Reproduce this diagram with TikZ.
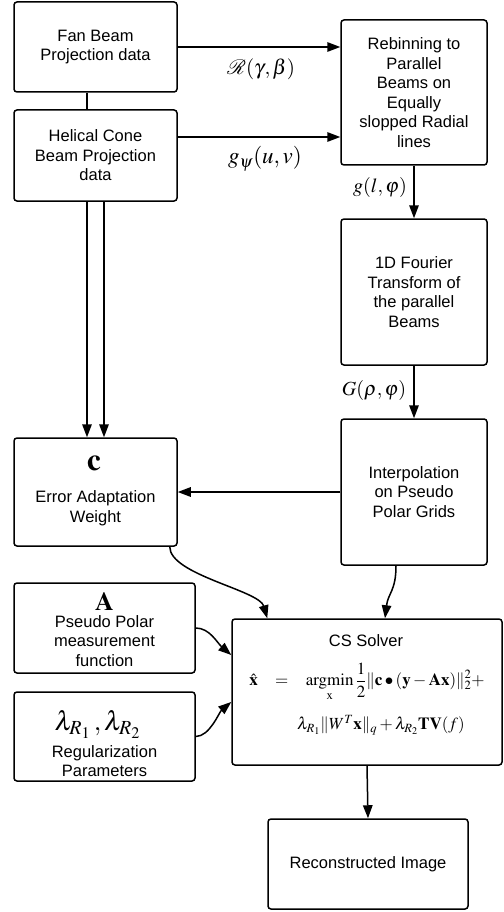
\documentclass[tikz,border=0pt]{standalone}
\usepackage{amsmath}
\usepackage{mathptmx}
\usepackage{mathrsfs}
\usepackage[no-math]{fontspec}
\setmainfont{Liberation Sans}
\usetikzlibrary{arrows.meta}
\begin{document}
\begin{tikzpicture}[x=1pt,y=-1pt,
 box/.style={draw,line width=1.5pt,rounded corners=3pt,align=center,inner sep=0pt},
 txt/.style={font=\fontsize{16.5}{19.5}\selectfont,align=center,inner sep=0pt},
 mlab/.style={font=\fontsize{21}{24}\selectfont,inner sep=0pt},
 eqn/.style={font=\fontsize{17}{20}\selectfont,inner sep=0pt},
 arr/.style={line width=1.5pt,-{Triangle[length=13pt,width=9.5pt]}},
 con/.style={line width=1.5pt}]
\useasboundingbox (0,0) rectangle (503,912);

\node[box,txt,minimum width=163pt,minimum height=90pt] (fan) at (95.5,47) {Fan Beam\\Projection data};
\node[box,txt,minimum width=163pt,minimum height=91pt] (helix) at (95.5,155.5) {Helical Cone\\Beam Projection\\data};
\node[box,txt,minimum width=146pt,minimum height=145pt] (rebin) at (414,92.5) {Rebinning to\\Parallel\\Beams on\\Equally\\slopped Radial\\lines};
\node[box,txt,minimum width=146pt,minimum height=146pt] (fourier) at (414,292) {1D Fourier\\Transform of\\the parallel\\Beams};
\node[box,txt,minimum width=146pt,minimum height=146pt] (interp) at (414,492) {Interpolation\\on Pseudo\\Polar Grids};
\node[box,minimum width=163pt,minimum height=108pt] (err) at (95.5,492) {};
\node[box,minimum width=181pt,minimum height=90pt] (amat) at (104.5,628) {};
\node[box,minimum width=181pt,minimum height=89pt] (reg) at (104.5,736.5) {};
\node[box,minimum width=270pt,minimum height=146pt] (cs) at (367,692) {};
\node[box,txt,minimum width=200pt,minimum height=90pt] (recon) at (368,864) {Reconstructed Image};

% texts in boxes
\node[inner sep=0pt,font=\fontsize{31}{31}\selectfont] (cbold) at (94,463) {$\mathbf{c}$};
\node[txt] (errtxt) at (95.5,508) {Error Adaptation\\Weight};
\node[inner sep=0pt,font=\fontsize{26}{26}\selectfont] (abold) at (104.5,602) {$\mathbf{A}$};
\node[txt] (amtxt) at (104.5,641) {Pseudo Polar\\measurement\\function};
\node[inner sep=0pt,font=\fontsize{27}{27}\selectfont] (lam) at (97.5,724) {$\lambda_{R_1}\,,\lambda_{R_2}$};
\node[txt] (regtxt) at (104.5,761) {Regularization\\Parameters};
\node[txt] (cstitle) at (366,641) {CS Solver};
\node[eqn] (eq1) at (367,682) {$\displaystyle \hat{\mathbf{x}}\hspace{0.8em}=\hspace{0.8em}\operatorname*{argmin}_{\mathrm{x}}\frac{1}{2}\|\mathbf{c}\bullet(\mathbf{y}-\mathbf{A}\mathbf{x})\|_2^2+$};
\node[eqn] (eq2) at (381,725) {$\lambda_{R_1}\|W^T\mathbf{x}\|_q+\lambda_{R_2}\mathbf{TV}(f)$};

% connectors
\draw[con] ([xshift=-8.5pt]fan.south) -- ([xshift=-8.5pt]helix.north);
\draw[arr] (fan.east) -- (fan.east -| rebin.west);
\draw[arr] ([yshift=18.5pt]helix.east) -- ([yshift=18.5pt]helix.east -| rebin.west);
\draw[arr] (rebin.south) -- (fourier.north);
\draw[arr] (fourier.south) -- (interp.north);
\draw[arr] ([xshift=-8.5pt]helix.south) -- ([xshift=-8.5pt]err.north);
\draw[arr] ([xshift=8.5pt]helix.south) -- ([xshift=8.5pt]err.north);
\draw[arr] (interp.west) -- (err.east);
\draw[arr] ([xshift=-8pt]err.south east) .. controls +(0,28) and +(-8,-28) .. ([xshift=36pt]cs.north west);
\draw[arr] ([xshift=-18pt]interp.south) .. controls +(0,25) and +(3,-25) .. ([xshift=18pt]cs.north);
\draw[arr] (amat.east) .. controls +(14,0) and +(-14,-12) .. ([yshift=37pt]cs.west);
\draw[arr] (reg.east) .. controls +(14,0) and +(-12,10) .. ([yshift=-10pt]cs.west);
\draw[arr] (cs.south) -- (recon.north);

% labels
\node[mlab] (l1) at (261,69) {$\mathscr{R}(\gamma,\beta)$};
\node[mlab,font=\fontsize{23}{26}\selectfont] (l2) at (265,159) {$g_{\psi}(u,v)$};
\node[mlab,font=\fontsize{20}{24}\selectfont] (l3) at (380,188) {$g(l,\varphi)$};
\node[mlab,font=\fontsize{20}{24}\selectfont] (l4) at (374,390) {$G(\rho,\varphi)$};
\end{tikzpicture}
\end{document}
